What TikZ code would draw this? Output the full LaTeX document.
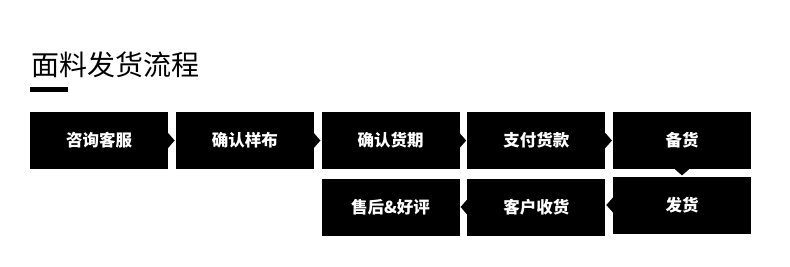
\documentclass[tikz,border=0pt]{standalone}
\usepackage{fontspec}
\usetikzlibrary{arrows.meta}
\newfontfamily\cjk{Noto Sans CJK SC}
\definecolor{boxblack}{HTML}{000000}

\begin{document}
\begin{tikzpicture}[x=1pt, y=-1pt,
  stepbox/.style={fill=boxblack, text=white, minimum width=138pt, minimum height=57pt,
    inner sep=0pt, font=\cjk\fontsize{16.5}{18}\selectfont\bfseries},
  flow/.style={boxblack, line width=0.1pt, shorten >=1pt,
    -{Triangle[width=16pt, length=7pt]}}]

% Canvas
\useasboundingbox (0,0) rectangle (790,266);

% Title and underline bar
\node[anchor=west, inner sep=0pt, font=\cjk\fontsize{28}{30}\selectfont] (title) at (31,65) {面料发货流程};
\fill[boxblack] (30,87) rectangle (68,92);

% Top row
\node[stepbox] (consult) at (99,140.5) {咨询客服};
\node[stepbox] (sample)  at (244.75,140.5) {确认样布};
\node[stepbox] (period)  at (390.5,140.5) {确认货期};
\node[stepbox] (payment) at (536.25,140.5) {支付货款};
\node[stepbox] (prepare) at (682,140.5) {备货};

% Bottom row
\node[stepbox] (ship)    at (682,205) {发货};
\node[stepbox] (receive) at (536.25,207) {客户收货};
\node[stepbox] (review)  at (390.5,207) {售后\&好评};

% Connectors
\draw[flow] (consult.east) -- (sample.west);
\draw[flow] (sample.east) -- (period.west);
\draw[flow] (period.east) -- (payment.west);
\draw[flow] (payment.east) -- (prepare.west);
\draw[flow] (prepare.south) -- (ship.north);
\draw[flow] (ship.west) -- (ship.west -| receive.east);
\draw[flow] (receive.west) -- (review.east);

\end{tikzpicture}
\end{document}
